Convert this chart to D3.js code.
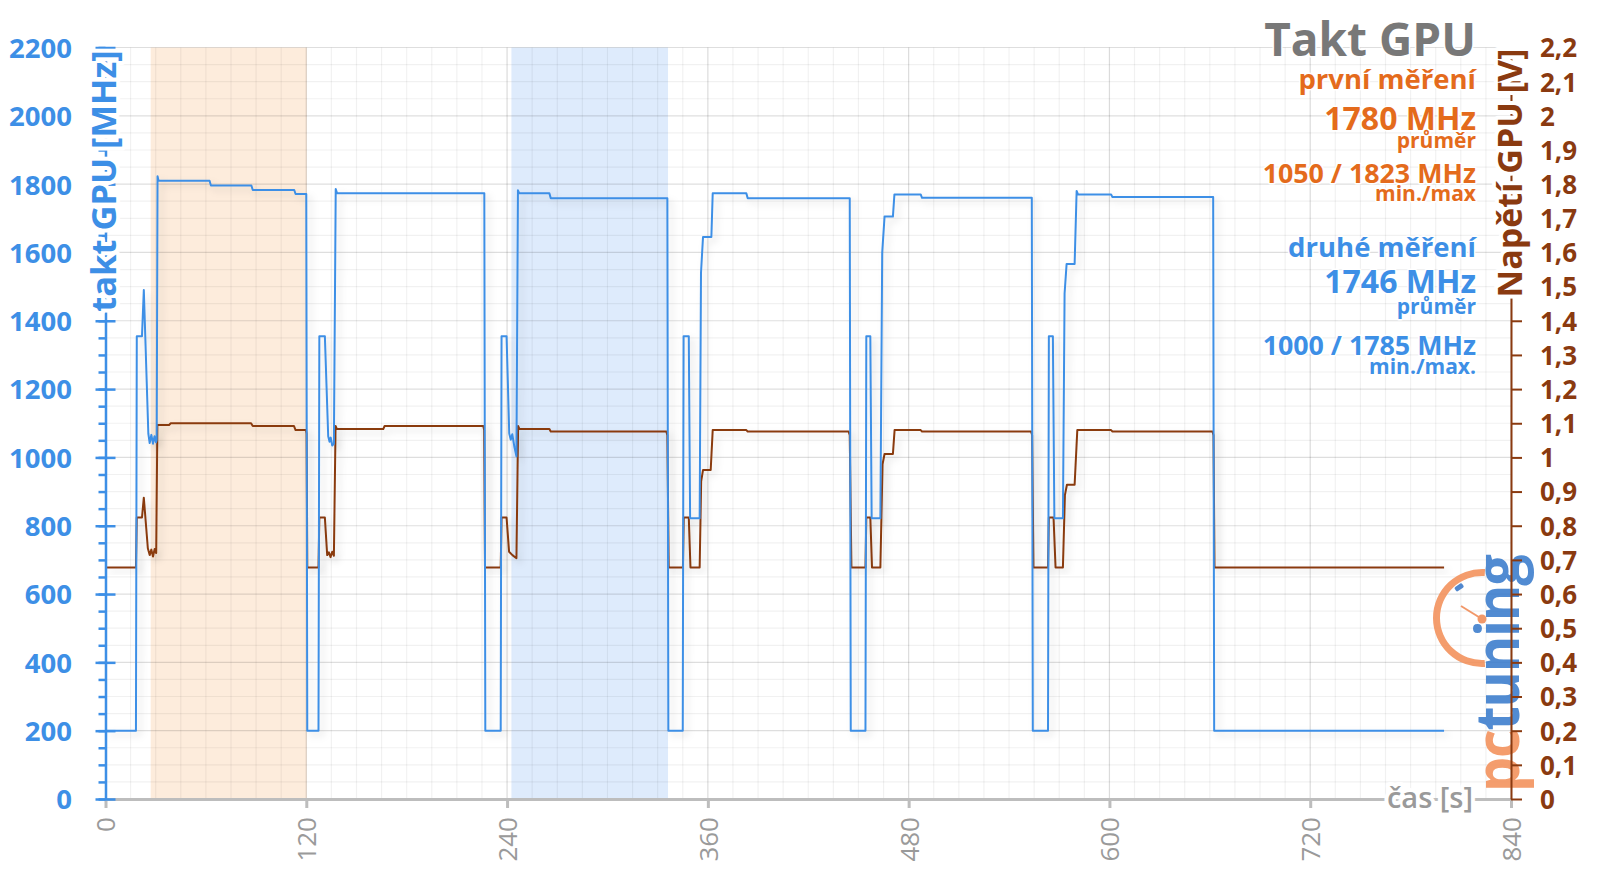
<!DOCTYPE html>
<html><head><meta charset="utf-8">
<script src="https://cdn.jsdelivr.net/npm/d3@7"></script>
<style>html,body{margin:0;padding:0;background:#fff;} svg{display:block;font-family:"Open Sans",sans-serif;}</style>
</head><body><svg id="c" width="1600" height="886"></svg>
<script>
// ---- data ----
const clockTime = [0,18.2,18.7,21.8,22.9,25.6,26.4,27.4,28.4,29.3,30.2,30.6,31.1,31.7,62.2,63.0,87.2,88.0,112.8,113.6,120.0,120.6,
  127.3,127.8,131.1,133.1,133.9,134.6,135.5,136.5,137.6,138.4,226.4,227.0,
  236.2,236.7,239.7,241.3,242.2,243.1,244.4,245.6,246.5,247.3,265.3,266.1,335.8,336.4,
  345.0,345.5,348.6,349.4,355.1,355.9,357.1,362.1,362.9,383.0,383.8,444.8,445.4,
  454.2,454.7,457.1,457.9,463.1,464.2,465.6,470.6,471.5,487.2,488.0,553.6,554.2,
  563.3,563.8,566.2,567.1,572.2,573.2,574.4,579.2,580.4,581.2,601.0,601.8,662.0,662.6,800];
const clockMHz = [200,200,1355,1355,1490,1070,1042,1066,1040,1062,1044,1052,1823,1810,1810,1796,1796,1783,1783,1771,1771,200,
  200,1355,1355,1062,1046,1058,1035,1040,1786,1773,1773,200,
  200,1355,1355,1070,1052,1068,1030,1003,1782,1773,1773,1759,1759,200,
  200,1355,1355,822,822,1540,1645,1645,1773,1773,1759,1759,200,
  200,1355,1355,822,822,1600,1705,1705,1770,1770,1760,1760,200,
  200,1355,1355,822,822,1480,1566,1566,1780,1770,1770,1762,1762,200,200];
const voltTime = [0,18.2,18.7,21.8,22.9,25.3,26.4,27.4,28.4,29.4,30.3,31.0,38.0,39.0,87.0,88.0,112.6,113.6,119.8,120.2,120.6,
  127.3,127.8,131.1,132.5,133.5,134.5,135.5,136.5,137.5,138.3,166.0,166.8,225.8,226.3,226.8,
  236.2,236.7,239.7,241.2,243.2,245.6,246.6,247.4,265.3,266.1,335.2,335.8,336.6,
  345.1,345.6,348.6,349.6,355.1,356.0,357.1,361.7,362.9,383.0,383.8,444.1,444.8,445.8,
  454.2,454.7,457.1,458.1,463.1,464.4,465.6,470.6,471.6,487.2,488.0,553.2,553.8,554.6,
  563.3,563.8,566.6,567.8,572.2,573.4,574.6,579.2,580.8,601.0,601.8,661.6,662.2,662.8,800];
const voltV = [0.678,0.678,0.824,0.824,0.882,0.734,0.714,0.730,0.710,0.732,0.720,1.095,1.095,1.100,1.100,1.092,1.092,1.080,1.080,1.070,0.678,
  0.678,0.824,0.824,0.714,0.722,0.708,0.724,0.712,1.092,1.083,1.083,1.092,1.092,1.080,0.678,
  0.678,0.824,0.824,0.724,0.714,0.705,1.092,1.083,1.083,1.076,1.076,1.065,0.678,
  0.678,0.824,0.824,0.678,0.678,0.930,0.963,0.963,1.080,1.080,1.076,1.076,1.065,0.678,
  0.678,0.824,0.824,0.678,0.678,0.980,1.010,1.010,1.080,1.080,1.076,1.076,1.065,0.678,
  0.678,0.824,0.824,0.678,0.678,0.890,0.920,0.920,1.080,1.080,1.076,1.076,1.065,0.678,0.678];
const bandStart = [27, 242.6];
const bandEnd = [120.3, 336.2];
const xTicks = [0,120,240,360,480,600,720,840];
const yTicksMHz = [0,200,400,600,800,1000,1200,1400,1600,1800,2000,2200];
const yTicksV = [0,0.1,0.2,0.3,0.4,0.5,0.6,0.7,0.8,0.9,1,1.1,1.2,1.3,1.4,1.5,1.6,1.7,1.8,1.9,2,2.1,2.2];
const titleText = "Takt GPU";
const legend1 = ["první měření","1780 MHz","průměr","1050 / 1823 MHz","min./max"];
const legend2 = ["druhé měření","1746 MHz","průměr","1000 / 1785 MHz","min./max."];

// ---- styles ----
const BLUE = "#3d8fe6", BROWN = "#8a3a10", ORANGE = "#e46b1c", GRAY = "#9a9a9a";
const svg = d3.select("#c");
svg.append("rect").attr("width",1600).attr("height",886).attr("fill","#fff");
const x = d3.scaleLinear().domain([0,840]).range([105.5,1511]);
const y = d3.scaleLinear().domain([0,2200]).range([799,47.5]);
const yV = d3.scaleLinear().domain([0,2.2]).range([799,47.5]);

const defs = svg.append("defs");
const f = defs.append("filter").attr("id","sh").attr("x","-5%").attr("y","-5%").attr("width","110%").attr("height","110%");
f.append("feDropShadow").attr("dx",4).attr("dy",4).attr("stdDeviation",3.5).attr("flood-color","#000").attr("flood-opacity",0.13);

// bands
const bandColors = ["#fdecdc","#deebfc"];
svg.selectAll("rect.band").data(bandStart).join("rect").attr("class","band")
  .attr("x",(d)=>x(d)).attr("width",(d,i)=>x(bandEnd[i])-x(d))
  .attr("y",y(2200)).attr("height",y(0)-y(2200)).attr("fill",(d,i)=>bandColors[i]);

// grid
const g = svg.append("g");
g.selectAll("line.vmin").data(d3.range(0,841,15)).join("line")
  .attr("x1",d=>x(d)).attr("x2",d=>x(d)).attr("y1",y(2200)).attr("y2",y(0))
  .attr("stroke", d=> d%120===0 ? "rgba(0,0,0,0.14)" : "rgba(0,0,0,0.055)").attr("stroke-width",1.2);
g.selectAll("line.hmin").data(d3.range(0,2201,50)).join("line")
  .attr("y1",d=>y(d)).attr("y2",d=>y(d)).attr("x1",x(0)).attr("x2",x(840))
  .attr("stroke", d=> d%200===0 ? "rgba(0,0,0,0.13)" : "rgba(0,0,0,0.055)").attr("stroke-width",1.2);

// logo watermark
const logo = svg.append("g").attr("opacity",0.88);
logo.append("path").attr("d", d3.arc()({innerRadius:42,outerRadius:49,startAngle:Math.PI*0.02,endAngle:-Math.PI*1.02}))
  .attr("transform","translate(1482,618)").attr("fill","#f3905a");
logo.append("line").attr("x1",1461).attr("y1",606).attr("x2",1482).attr("y2",619).attr("stroke","#f08a55").attr("stroke-width",2);
logo.append("circle").attr("cx",1482).attr("cy",619).attr("r",4.5).attr("fill","#f08a55");
logo.append("rect").attr("x",1455).attr("y",585).attr("width",9).attr("height",5).attr("rx",1.5)
  .attr("transform","rotate(-35,1459,588)").attr("fill","#3a78c8");
const lt = logo.append("text").attr("transform","translate(1519,792) rotate(-90) scale(1.33,1.45)")
  .attr("font-size",42).attr("font-weight",700).attr("letter-spacing",-1);
lt.append("tspan").text("pc").attr("fill","#f3905a");
lt.append("tspan").text("tuning").attr("fill","#3a7ccc");

// lines
const pts = (ts, vs, sc) => ts.map((t,i)=>[x(t), sc(vs[i])]);
const line = d3.line();
svg.append("path").attr("d", line(pts(voltTime, voltV, yV))).attr("fill","none")
  .attr("stroke",BROWN).attr("stroke-width",2).attr("stroke-linejoin","round").attr("filter","url(#sh)");
svg.append("path").attr("d", line(pts(clockTime, clockMHz, y))).attr("fill","none")
  .attr("stroke",BLUE).attr("stroke-width",2).attr("stroke-linejoin","round").attr("filter","url(#sh)");

// bottom axis
const ax = svg.append("g").attr("transform",`translate(0,${y(0)})`)
  .call(d3.axisBottom(x).tickValues(xTicks).tickSizeInner(9).tickSizeOuter(0));
ax.select(".domain").attr("stroke","#bdbdbd").attr("stroke-width",3);
ax.selectAll(".tick line").attr("stroke","#bdbdbd").attr("stroke-width",3);
ax.selectAll(".tick text").attr("transform","rotate(-90)").attr("text-anchor","end")
  .attr("x",-18).attr("y",0).attr("dy","0.36em").attr("font-size",26).attr("fill",GRAY)
  .attr("font-family","'Open Sans',sans-serif");

// left axis
const minorL = svg.append("g").attr("transform",`translate(${x(0)},0)`)
  .call(d3.axisLeft(y).tickValues(d3.range(0,2201,50)).tickSize(7).tickFormat(""));
minorL.select(".domain").remove();
minorL.selectAll(".tick line").attr("stroke",BLUE).attr("stroke-width",2.5);
const al = svg.append("g").attr("transform",`translate(${x(0)},0)`)
  .call(d3.axisLeft(y).tickValues(yTicksMHz).tickSizeInner(10).tickSizeOuter(0).tickFormat(d3.format("d")));
al.select(".domain").attr("stroke",BLUE).attr("stroke-width",2.5);
al.selectAll(".tick line").attr("x1",-10).attr("x2",10).attr("stroke",BLUE).attr("stroke-width",2.5);
al.selectAll(".tick text").attr("x",-33.5).attr("dy","0.36em").attr("font-size",27.5).attr("font-weight",700)
  .attr("fill",BLUE).attr("font-family","'Open Sans',sans-serif");

// right axis
const fmtV = d => (Math.abs(d*10 - Math.round(d)*10) < 1e-6) ? String(Math.round(d)) : d.toFixed(1).replace(".",",");
const ar = svg.append("g").attr("transform",`translate(${x(840)},0)`)
  .call(d3.axisRight(yV).tickValues(yTicksV).tickSizeInner(11).tickSizeOuter(0).tickFormat(fmtV));
ar.select(".domain").attr("stroke",BROWN).attr("stroke-width",2);
ar.selectAll(".tick line").attr("stroke",BROWN).attr("stroke-width",2);
ar.selectAll(".tick text").attr("x",29).attr("dy","0.36em").attr("font-size",26).attr("font-weight",700)
  .attr("fill",BROWN).attr("font-family","'Open Sans',sans-serif");

// axis titles (with white halo)
const halo = sel => sel.attr("stroke","#fff").attr("stroke-width",8).attr("stroke-linejoin","round").attr("paint-order","stroke");
svg.append("text").attr("transform","translate(116,181) rotate(-90)").attr("text-anchor","middle")
  .attr("font-size",34.5).attr("font-weight",700).attr("fill",BLUE).text("takt GPU [MHz]").call(halo);
svg.append("text").attr("transform","translate(1522,173) rotate(-90)").attr("text-anchor","middle")
  .attr("font-size",34).attr("font-weight",700).attr("fill",BROWN).text("Napětí GPU [V]").call(halo);
svg.append("text").attr("x",1473).attr("y",808).attr("text-anchor","end")
  .attr("font-size",29).attr("font-weight",600).attr("fill",GRAY).text("čas [s]").call(halo);

// title and legend
const halo2 = sel => sel.attr("stroke","#fff").attr("stroke-width",3).attr("stroke-linejoin","round").attr("paint-order","stroke");
const RX = 1476;
svg.append("text").attr("x",RX).attr("y",56).attr("text-anchor","end").attr("font-size",46).attr("font-weight",700)
  .attr("fill","#787878").text(titleText).call(halo2);
const sizes = [27.5,32,21,26.8,21];
const ys1 = [89,130,148,183,201];
const ys2 = [257,293,313.5,355,374];
legend1.forEach((t,i)=> svg.append("text").attr("x",RX).attr("y",ys1[i]).attr("text-anchor","end")
  .attr("font-size",sizes[i]).attr("font-weight",700).attr("fill",ORANGE).text(t).call(halo2));
legend2.forEach((t,i)=> svg.append("text").attr("x",RX).attr("y",ys2[i]).attr("text-anchor","end")
  .attr("font-size",sizes[i]).attr("font-weight",700).attr("fill",BLUE).text(t).call(halo2));
</script></body></html>
